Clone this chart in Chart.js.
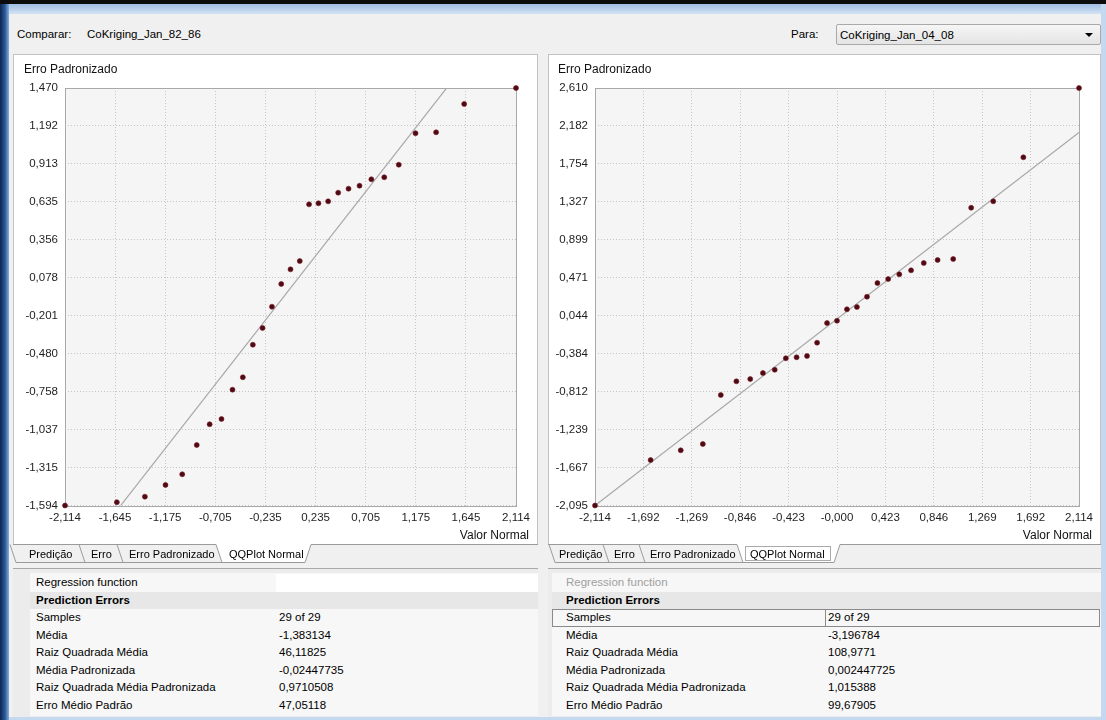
<!DOCTYPE html>
<html>
<head>
<meta charset="utf-8">
<title>QQPlot Normal</title>
<script src="https://cdn.jsdelivr.net/npm/chart.js@4.4.1/dist/chart.umd.min.js"></script>
<style>
  html, body { margin: 0; padding: 0; }
  body {
    width: 1106px; height: 720px; overflow: hidden; position: relative;
    background: #f0f0f0; color: #000;
    font-family: "Liberation Sans", Arial, sans-serif; font-size: 11.5px;
  }
  .abs { position: absolute; }
  .txt { position: absolute; white-space: nowrap; line-height: 14px; }
  #frameLeft { left: 0; top: 0; width: 9px; height: 720px;
    background: linear-gradient(to right, #0d2550, #2a5897 55%, #86aedc); }
  #frameTop { left: 0; top: 0; width: 1106px; height: 4px; background: #0c0c0c; }
  #frameTopBlue { left: 9px; top: 4px; width: 1097px; height: 10px;
    background: linear-gradient(#9fbde3, #d3e3f4); }
  #frameRight { left: 1101px; top: 4px; width: 5px; height: 716px; background: #c4d9ef; }
  #frameBottom { left: 9px; top: 717px; width: 1097px; height: 3px; background: #c4d9ef; }
  .panel { position: absolute; background: #fff; border: 1px solid #c2c2c2; border-bottom: none; box-sizing: border-box; }
  canvas { position: absolute; }
  #combo { left: 836px; top: 24px; width: 265px; height: 21px; box-sizing: border-box;
    border: 1px solid #a9a9a9; border-radius: 2px;
    background: linear-gradient(#f6f6f6, #e4e4e4); }
  #combo .arrow { position: absolute; right: 7px; top: 8px; width: 0; height: 0;
    border-left: 4px solid transparent; border-right: 4px solid transparent; border-top: 4px solid #000; }
  .tabtxt { position: absolute; top: 547px; line-height: 14px; font-size: 11px; white-space: nowrap; }
  .tpanel { position: absolute; top: 568px; height: 149px; background: #ececec; border-top: 1px solid #a8a8a8; box-sizing: border-box; }
  .row { position: absolute; height: 17.5px; line-height: 17.5px; white-space: nowrap; }
</style>
</head>
<body>
<div id="frameLeft" class="abs"></div>
<div id="frameTop" class="abs"></div>
<div id="frameTopBlue" class="abs"></div>
<div id="frameRight" class="abs"></div>
<div id="frameBottom" class="abs"></div>

<div class="txt" style="left:17px; top:27px;">Comparar:</div>
<div class="txt" style="left:87px; top:27px;" id="nomeA"></div>
<div class="txt" style="left:791px; top:27px;">Para:</div>
<div id="combo" class="abs"><div class="txt" style="left:3px; top:3px;" id="nomeB"></div><div class="arrow"></div></div>

<div class="panel" style="left:13px; top:54px; width:525px; height:491px;"></div>
<div class="panel" style="left:548px; top:54px; width:553px; height:491px;"></div>
<canvas id="qqA" style="left:13px; top:54px;" width="525" height="491"></canvas>
<canvas id="qqB" style="left:548px; top:54px;" width="553" height="491"></canvas>

<svg class="abs" style="left:0; top:0;" width="1106" height="720">
  <g stroke="#9a9a9a" stroke-width="1" fill="none" shape-rendering="geometricPrecision">
    <!-- left tab strip -->
    <polyline points="13,544.5 216,544.5"/>
    <polyline points="311,544.5 538,544.5"/>
    <line x1="10" y1="544.5" x2="16" y2="562.5"/>
    <line x1="79" y1="544.5" x2="85" y2="562.5"/>
    <line x1="117" y1="544.5" x2="123" y2="562.5"/>
    <line x1="16" y1="562.5" x2="222" y2="562.5"/>
    <polygon points="216,544 222,562.5 305,562.5 311,544" fill="#fff" stroke="none"/>
    <polyline points="216,544.5 222,562.5 305,562.5 311,544.5"/>
    <!-- right tab strip -->
    <polyline points="548,544.5 737,544.5"/>
    <polyline points="840,544.5 1101,544.5"/>
    <line x1="549" y1="544.5" x2="555" y2="562.5"/>
    <line x1="603" y1="544.5" x2="609" y2="562.5"/>
    <line x1="639" y1="544.5" x2="645" y2="562.5"/>
    <line x1="555" y1="562.5" x2="743" y2="562.5"/>
    <polygon points="737,544 743,562.5 834,562.5 840,544" fill="#fff" stroke="none"/>
    <polyline points="737,544.5 743,562.5 834,562.5 840,544.5"/>
  </g>
  <rect x="745.5" y="546.5" width="85" height="14" fill="none" stroke="#555" stroke-width="1" stroke-dasharray="1,1"/>
</svg>
<div class="tabtxt" style="left:29px;">Predição</div>
<div class="tabtxt" style="left:91px;">Erro</div>
<div class="tabtxt" style="left:129px;">Erro Padronizado</div>
<div class="tabtxt" style="left:229px;">QQPlot Normal</div>
<div class="tabtxt" style="left:559px;">Predição</div>
<div class="tabtxt" style="left:614px;">Erro</div>
<div class="tabtxt" style="left:650px;">Erro Padronizado</div>
<div class="tabtxt" style="left:750px;">QQPlot Normal</div>

<div class="tpanel" style="left:13px; width:525px;" id="tabelaA"></div>
<div class="tpanel" style="left:548px; width:553px;" id="tabelaB"></div>

<script>
// Normal quantiles of the 29 samples (horizontal axis)
const valorNormal = [-2.114, -1.628, -1.365, -1.172, -1.015, -0.879, -0.758, -0.647, -0.544, -0.447,
  -0.353, -0.262, -0.174, -0.087, 0.000, 0.087, 0.174, 0.262, 0.353, 0.447,
  0.544, 0.647, 0.758, 0.879, 1.015, 1.172, 1.365, 1.628, 2.114];

// Sorted standardized errors, CoKriging_Jan_82_86
const erroPadA = [-1.594, -1.570, -1.529, -1.443, -1.365, -1.150, -0.998, -0.959, -0.744, -0.653,
  -0.414, -0.291, -0.135, 0.032, 0.139, 0.200, 0.616, 0.624, 0.638, 0.702,
  0.731, 0.753, 0.800, 0.815, 0.907, 1.138, 1.145, 1.353, 1.470];

// Sorted standardized errors, CoKriging_Jan_04_08
const erroPadB = [-2.095, -1.583, -1.473, -1.402, -0.850, -0.696, -0.670, -0.602, -0.565, -0.436,
  -0.425, -0.410, -0.260, -0.039, -0.013, 0.116, 0.142, 0.258, 0.412, 0.457,
  0.510, 0.555, 0.638, 0.672, 0.683, 1.261, 1.333, 1.829, 2.610];

// Reference line ends
const retaX = [-2.114, 2.114];
const retaA = [-2.118, 2.122];
const retaB = [-2.095, 2.110];

// Axis ticks and their labels
const xTicksA = [-2.114, -1.645, -1.175, -0.705, -0.235, 0.235, 0.705, 1.175, 1.645, 2.114];
const xLabelsA = ['-2,114', '-1,645', '-1,175', '-0,705', '-0,235', '0,235', '0,705', '1,175', '1,645', '2,114'];
const yTicksA = [1.470, 1.192, 0.913, 0.635, 0.356, 0.078, -0.201, -0.480, -0.758, -1.037, -1.315, -1.594];
const yLabelsA = ['1,470', '1,192', '0,913', '0,635', '0,356', '0,078', '-0,201', '-0,480', '-0,758', '-1,037', '-1,315', '-1,594'];

const xTicksB = [-2.114, -1.692, -1.269, -0.846, -0.423, 0, 0.423, 0.846, 1.269, 1.692, 2.114];
const xLabelsB = ['-2,114', '-1,692', '-1,269', '-0,846', '-0,423', '-0,000', '0,423', '0,846', '1,269', '1,692', '2,114'];
const yTicksB = [2.610, 2.182, 1.754, 1.327, 0.899, 0.471, 0.044, -0.384, -0.812, -1.239, -1.667, -2.095];
const yLabelsB = ['2,610', '2,182', '1,754', '1,327', '0,899', '0,471', '0,044', '-0,384', '-0,812', '-1,239', '-1,667', '-2,095'];

// Summary tables
const nomes = ['CoKriging_Jan_82_86', 'CoKriging_Jan_04_08'];
const estatisticas = ['Samples', 'Média', 'Raiz Quadrada Média', 'Média Padronizada',
  'Raiz Quadrada Média Padronizada', 'Erro Médio Padrão'];
const valoresA = ['29 of 29', '-1,383134', '46,11825', '-0,02447735', '0,9710508', '47,05118'];
const valoresB = ['29 of 29', '-3,196784', '108,9771', '0,002447725', '1,015388', '99,67905'];

document.getElementById('nomeA').textContent = nomes[0];
document.getElementById('nomeB').textContent = nomes[1];

const FONT = '"Liberation Sans", Arial, sans-serif';

const plotFrame = {
  id: 'plotFrame',
  beforeDraw(chart) {
    const a = chart.chartArea, c = chart.ctx;
    c.save();
    c.fillStyle = '#f5f5f5';
    c.fillRect(a.left, a.top, a.right - a.left, a.bottom - a.top);
    c.restore();
  },
  beforeDatasetsDraw(chart) {
    const a = chart.chartArea, c = chart.ctx;
    c.save();
    c.strokeStyle = '#a9a9a9';
    c.lineWidth = 1;
    c.strokeRect(Math.round(a.left) + 0.5, Math.round(a.top) + 0.5,
      Math.round(a.right - a.left), Math.round(a.bottom - a.top));
    c.restore();
  },
  afterDraw(chart, args, opts) {
    const c = chart.ctx, a = chart.chartArea;
    c.save();
    c.fillStyle = '#111';
    c.font = '12px ' + FONT;
    c.textBaseline = 'middle';
    c.textAlign = 'left';
    c.fillText(opts.yTitle, opts.yTitleX, 16);
    c.textAlign = 'right';
    c.fillText(opts.xTitle, a.right + opts.xTitleDx, a.bottom + 30);
    c.restore();
  }
};

function makeQQ(id, erro, reta, xT, xL, yT, yL, yAxisWidth, yTitleX) {
  const pontos = valorNormal.map((v, i) => ({ x: v, y: erro[i] }));
  const linha = retaX.map((v, i) => ({ x: v, y: reta[i] }));
  return new Chart(document.getElementById(id), {
    type: 'scatter',
    data: {
      datasets: [
        {
          data: linha, showLine: true, pointRadius: 0, borderColor: '#a8a8a8',
          borderWidth: 1.2, clip: 0, order: 2
        },
        {
          data: pontos, pointRadius: 2.5, pointHoverRadius: 2.5,
          backgroundColor: '#4e0a14', borderColor: '#7a1c24', borderWidth: 0.6,
          clip: false, order: 1
        }
      ]
    },
    options: {
      responsive: false, animation: false, events: [],
      layout: { padding: { left: 0, right: 22, top: 34, bottom: 0 } },
      plugins: {
        legend: { display: false }, tooltip: { enabled: false },
        plotFrame: { yTitle: 'Erro Padronizado', yTitleX: yTitleX, xTitle: 'Valor Normal', xTitleDx: 13 }
      },
      scales: {
        x: {
          type: 'linear', min: xT[0], max: xT[xT.length - 1],
          afterBuildTicks: s => { s.ticks = xT.map(v => ({ value: v })); },
          afterFit: s => { s.height = 39.5; },
          grid: { color: '#c6c6c6', lineWidth: 1, drawTicks: false },
          border: { display: false, dash: [1, 2] },
          ticks: {
            padding: 5, color: '#1e1e1e', autoSkip: false, maxRotation: 0,
            font: { family: FONT, size: 11.5 },
            callback: (v, i) => xL[i]
          }
        },
        y: {
          type: 'linear', min: yT[yT.length - 1], max: yT[0],
          afterBuildTicks: s => { s.ticks = yT.slice().reverse().map(v => ({ value: v })); },
          afterFit: s => { s.width = yAxisWidth; },
          grid: { color: '#c6c6c6', lineWidth: 1, drawTicks: false },
          border: { display: false, dash: [1, 2] },
          ticks: {
            padding: 7, color: '#1e1e1e', autoSkip: false,
            font: { family: FONT, size: 11.5 },
            callback: (v, i) => yL[yL.length - 1 - i]
          }
        }
      }
    },
    plugins: [plotFrame]
  });
}

makeQQ('qqA', erroPadA, retaA, xTicksA, xLabelsA, yTicksA, yLabelsA, 52, 11);
makeQQ('qqB', erroPadB, retaB, xTicksB, xLabelsB, yTicksB, yLabelsB, 47, 10);

// Prediction error tables
function tabela(id, valores, opts) {
  const el = document.getElementById(id);
  const W = el.clientWidth;
  const add = (html, style) => {
    const d = document.createElement('div');
    d.className = 'row';
    d.style.cssText = style;
    d.innerHTML = html;
    el.appendChild(d);
    return d;
  };
  const y0 = 5;
  const h = 17.5;
  // inner table background
  add('', `left:${opts.tl}px; top:${y0 - 1}px; width:${W - opts.tl}px; height:${h * 8 + 3}px; background:#f7f7f7;`);
  // regression function row
  add('', `left:${opts.vx - 3}px; top:${y0}px; width:${W - opts.vx + 3}px; background:${opts.regWhite ? '#ffffff' : '#f7f7f7'};`);
  add('Regression function', `left:${opts.lx}px; top:${y0}px; color:${opts.regColor};`);
  // section header
  add('<b>Prediction Errors</b>', `left:${opts.tl}px; top:${y0 + h}px; width:${W - opts.tl}px; background:#e7e7e7; padding-left:${opts.lx - opts.tl}px; box-sizing:border-box;`);
  estatisticas.forEach((nome, i) => {
    const top = y0 + h * (i + 2);
    add(nome, `left:${opts.lx}px; top:${top}px;`);
    add(valores[i], `left:${opts.vx}px; top:${top}px;`);
  });
  if (opts.selBox) {
    const top = y0 + h * 2;
    add('', `left:${opts.tl}px; top:${top}px; width:${W - opts.tl - 1}px; height:${h}px; box-sizing:border-box; border:1px solid #8a8a8a;`);
    add('', `left:${opts.vx - 3}px; top:${top}px; width:1px; height:${h}px; background:#8a8a8a;`);
  }
}
tabela('tabelaA', valoresA, { tl: 17, lx: 23, vx: 266, regWhite: true, regColor: '#000', selBox: false });
tabela('tabelaB', valoresB, { tl: 4, lx: 18, vx: 280, regWhite: false, regColor: '#a0a0a0', selBox: true });
</script>
</body>
</html>
